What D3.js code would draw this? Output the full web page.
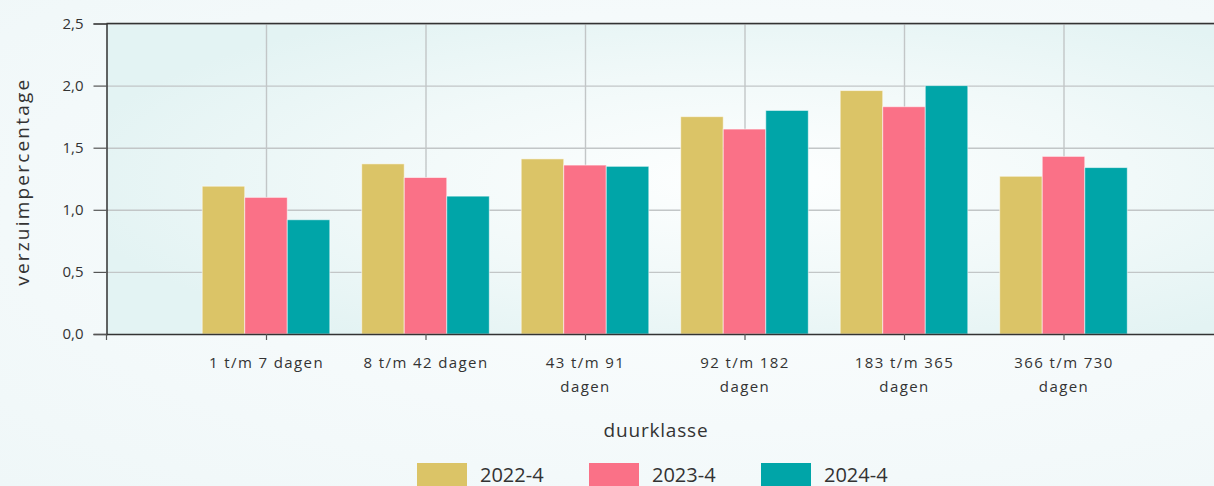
<!DOCTYPE html>
<html lang="nl">
  <head>
    <meta charset="utf-8">
    <title>Verzuim per duurklasse</title>
    <script src="https://d3js.org/d3.v7.min.js"></script>
    <style>
      html, body { margin: 0; padding: 0; }
      body {
        width: 1214px; height: 486px; overflow: hidden;
        background: radial-gradient(ellipse at 60% 45%, #fcfefe 0%, #f5fafb 55%, #eff7f8 100%);
      }
      #chart text { font-family: "Open Sans", "Noto Sans", sans-serif; fill: #333; }
      #chart .tick text { font-size: 15px; }
      #chart .eixo-x .tick text { letter-spacing: 1.4px; }
      #chart .domain { stroke: #333; stroke-width: 1.5; }
      #chart .tick line { stroke: #555; stroke-width: 1.2; }
      #chart .grid line { stroke: #c2c6c7; stroke-width: 1.4; }
      #chart .grid .domain { display: none; }
      #chart rect.bar { stroke: rgba(255,255,255,0.55); stroke-width: 1; }
    </style>
  </head>
  <body>
    <div id="chart"></div>
    <script>
      "use strict"
      // categorieen (x-as) en reeksen
      var duurklassen = ["1 t/m 7 dagen", "8 t/m 42 dagen", "43 t/m 91 dagen",
                         "92 t/m 182 dagen", "183 t/m 365 dagen", "366 t/m 730 dagen"];
      var perioden = ["2022-4", "2023-4", "2024-4"];
      var waarden2022 = [1.19, 1.37, 1.41, 1.75, 1.96, 1.27];
      var waarden2023 = [1.10, 1.26, 1.36, 1.65, 1.83, 1.43];
      var waarden2024 = [0.92, 1.11, 1.35, 1.80, 2.00, 1.34];
      var yTicks = [0, 0.5, 1.0, 1.5, 2.0, 2.5];
      var kleuren = ["#dbc467", "#fa7187", "#00a5a8"];

      var reeksen = [waarden2022, waarden2023, waarden2024];
      var dados = [];
      duurklassen.forEach(function(k, i) {
        perioden.forEach(function(p, j) {
          dados.push({klasse: k, periode: p, waarde: reeksen[j][i]});
        });
      });

      var larguraSVG = 1214, alturaSVG = 486;
      var margin = {top: 23.5, left: 106.5};
      var passo = 159.5;
      var larguraVis = passo * 7,
          alturaVis = 310.5;

      var svg = d3.select('#chart').append('svg')
          .attr('width', larguraSVG)
          .attr('height', alturaSVG);

      var defs = svg.append('defs');
      var grad = defs.append('radialGradient')
          .attr('id', 'plotbg')
          .attr('cx', '0.58').attr('cy', '0.5').attr('r', '0.62');
      grad.append('stop').attr('offset', '0%').attr('stop-color', '#feffff');
      grad.append('stop').attr('offset', '55%').attr('stop-color', '#f1f9f9');
      grad.append('stop').attr('offset', '100%').attr('stop-color', '#e3f3f3');

      var grafico = svg.append('g')
          .attr('transform', 'translate(' + margin.left + ',' + margin.top + ')');

      grafico.append('rect')
          .attr('width', larguraVis)
          .attr('height', alturaVis)
          .attr('fill', 'url(#plotbg)');

      // escalas
      var x = d3.scalePoint()
          .domain(duurklassen)
          .range([0, larguraVis])
          .padding(1);
      var xInner = d3.scaleBand()
          .domain(perioden)
          .range([-0.4 * x.step(), 0.4 * x.step()]);
      var y = d3.scaleLinear()
          .domain([0, 2.5])
          .range([alturaVis, 0]);
      var cor = d3.scaleOrdinal().domain(perioden).range(kleuren);

      // grade
      grafico.append('g')
          .attr('class', 'grid')
          .call(d3.axisLeft(y).tickValues(yTicks.slice(1)).tickSize(-larguraVis).tickFormat(''));
      grafico.append('g')
          .attr('class', 'grid')
          .call(d3.axisTop(x).tickSize(-alturaVis).tickFormat(''));

      // barras
      grafico.selectAll('.bar')
          .data(dados)
          .enter()
            .append('rect')
              .attr('class', 'bar')
              .attr('x', d => x(d.klasse) + xInner(d.periode))
              .attr('width', xInner.bandwidth())
              .attr('y', d => y(d.waarde))
              .attr('height', d => y(0) - y(d.waarde))
              .attr('fill', d => cor(d.periode));

      // eixos
      var fmt = d3.format('.1f');
      grafico.append('g')
          .call(d3.axisLeft(y).tickValues(yTicks).tickSize(13).tickPadding(10)
                .tickFormat(d => fmt(d).replace('.', ',')));
      grafico.append('line')
          .attr('x1', 0).attr('x2', larguraVis)
          .attr('y1', 0).attr('y2', 0)
          .attr('stroke', '#333').attr('stroke-width', 1.5);
      var eixoX = grafico.append('g')
          .attr('class', 'eixo-x')
          .attr('transform', 'translate(0,' + alturaVis + ')')
          .call(d3.axisBottom(x).tickSize(6).tickPadding(17).tickSizeOuter(0));
      eixoX.append('line')
          .attr('x1', 0).attr('x2', 0).attr('y1', 0).attr('y2', 6)
          .attr('stroke', '#555').attr('stroke-width', 1.2);

      // quebra de linha dos rotulos
      eixoX.selectAll('.tick text').each(function() {
        var t = d3.select(this);
        var palavras = t.text().split(' ');
        var limite = 130;
        t.text(null);
        var linha = [];
        var tspan = t.append('tspan').attr('x', 0).attr('dy', '0.71em');
        palavras.forEach(function(w) {
          linha.push(w);
          tspan.text(linha.join(' '));
          if (tspan.node().getComputedTextLength() > limite && linha.length > 1) {
            linha.pop();
            tspan.text(linha.join(' '));
            linha = [w];
            tspan = t.append('tspan').attr('x', 0).attr('dy', '24px').text(w);
          }
        });
      });

      // titulos
      grafico.append('text')
          .attr('transform', 'translate(-78,' + (alturaVis / 2 + 3) + ') rotate(-90)')
          .attr('text-anchor', 'middle')
          .style('font-size', '19px')
          .style('letter-spacing', '2.2px')
          .text('verzuimpercentage');
      svg.append('text')
          .attr('x', 656).attr('y', 437)
          .attr('text-anchor', 'middle')
          .style('font-size', '19px')
          .style('letter-spacing', '0.8px')
          .text('duurklasse');

      // legenda
      var legenda = svg.selectAll('.legend')
          .data(perioden)
          .enter().append('g')
            .attr('class', 'legend')
            .attr('transform', (d, i) => 'translate(' + (417 + i * 172) + ',463)');
      legenda.append('rect')
          .attr('width', 50)
          .attr('height', 24)
          .attr('fill', d => cor(d));
      legenda.append('text')
          .attr('x', 63)
          .attr('y', 19)
          .style('font-size', '20px')
          .text(d => d);
    </script>
  </body>
</html>
